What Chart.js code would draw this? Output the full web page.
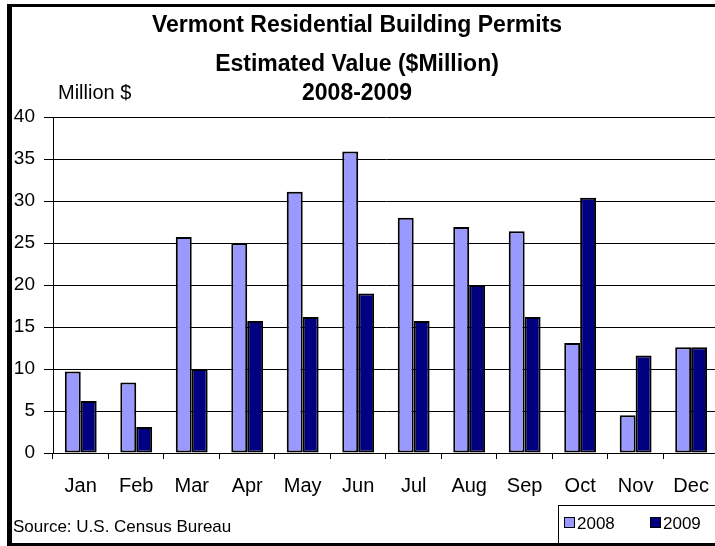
<!DOCTYPE html>
<html><head><meta charset="utf-8">
<script src="https://cdn.jsdelivr.net/npm/chart.js@4/dist/chart.umd.min.js"></script>
<style>
html,body{margin:0;padding:0;background:#fff;overflow:hidden;width:715px;height:546px;}
#wrap{position:absolute;left:0;top:0;width:724px;height:546px;}
#frame{position:absolute;left:7px;top:4px;width:720px;height:536px;border-left:5px solid #000;border-top:3px solid #000;border-bottom:3px solid #000;pointer-events:none;}
</style></head><body>
<div id="wrap"><canvas id="c" width="724" height="546"></canvas></div>
<div id="frame"></div>
<script>
const months = ["Jan","Feb","Mar","Apr","May","Jun","Jul","Aug","Sep","Oct","Nov","Dec"];
const series2008 = [9.7, 8.4, 25.7, 25.0, 31.1, 35.9, 28.0, 26.9, 26.4, 13.1, 4.5, 12.6];
const series2009 = [6.2, 3.1, 10.0, 15.7, 16.2, 19.0, 15.7, 20.0, 16.2, 30.4, 11.6, 12.6];
const seriesNames = ["2008", "2009"];
const titleLines = ["Vermont Residential Building Permits", "Estimated Value ($Million)", "2008-2009"];
const yAxisLabel = "Million $";
const sourceText = "Source: U.S. Census Bureau";
const yMin = 0, yMax = 40, yStep = 5;

const FONT = '"Liberation Sans", Arial, sans-serif';
const colors = ["#9999FF", "#000080"];

const textPlugin = {
  id: 'texts',
  afterDraw(chart) {
    const ctx = chart.ctx;
    ctx.save();
    ctx.fillStyle = '#000';
    ctx.textBaseline = 'alphabetic';
    ctx.textAlign = 'center';
    ctx.font = 'bold 23px ' + FONT;
    ctx.fillText(titleLines[0], 357, 32);
    ctx.fillText(titleLines[1], 357, 71);
    ctx.fillText(titleLines[2], 357, 100);
    ctx.textAlign = 'left';
    ctx.font = '20px ' + FONT;
    ctx.fillText(yAxisLabel, 58, 99);
    ctx.font = '17px ' + FONT;
    ctx.fillText(sourceText, 13, 532);
    // legend box
    ctx.fillStyle = '#fff';
    ctx.fillRect(558.5, 505.5, 160, 38);
    ctx.strokeStyle = '#000';
    ctx.lineWidth = 1;
    ctx.strokeRect(558.5, 505.5, 160, 38);
    const items = [[564, 577], [650, 663]];
    items.forEach((p, i) => {
      ctx.fillStyle = colors[i];
      ctx.fillRect(p[0] + 0.5, 517.5, 10, 10);
      ctx.strokeStyle = '#000';
      ctx.strokeRect(p[0] + 0.5, 517.5, 10, 10);
      ctx.fillStyle = '#000';
      ctx.font = '17px ' + FONT;
      ctx.fillText(seriesNames[i], p[1], 529);
    });
    ctx.restore();
  }
};

new Chart(document.getElementById('c'), {
  type: 'bar',
  data: {
    labels: months,
    datasets: [
      { label: seriesNames[0], data: series2008, backgroundColor: colors[0], borderColor: '#000', borderWidth: 2, borderSkipped: false, categoryPercentage: 0.574, barPercentage: 1.0 },
      { label: seriesNames[1], data: series2009, backgroundColor: colors[1], borderColor: '#000', borderWidth: 2, borderSkipped: false, categoryPercentage: 0.574, barPercentage: 1.0 }
    ]
  },
  options: {
    responsive: false,
    animation: false,
    devicePixelRatio: 1,
    layout: { padding: { left: 0, right: 2, top: 117, bottom: 0 } },
    plugins: { legend: { display: false }, title: { display: false }, tooltip: { enabled: false } },
    scales: {
      x: {
        afterFit: (s) => { s.height = 93; },
        grid: { drawOnChartArea: false, drawTicks: true, tickLength: 6, color: '#000', offset: true },
        border: { display: true, color: '#000', width: 1 },
        ticks: { color: '#000', font: { family: FONT, size: 20 }, padding: 15, maxRotation: 0, autoSkip: false }
      },
      y: {
        min: yMin, max: yMax,
        afterFit: (s) => { s.width = 53; },
        grid: { color: '#000', lineWidth: 1, drawTicks: true, tickLength: 9 },
        border: { display: true, color: '#000', width: 1 },
        ticks: { stepSize: yStep, color: '#000', font: { family: FONT, size: 19 }, padding: 9 }
      }
    }
  },
  plugins: [textPlugin]
});
</script>
</body></html>
